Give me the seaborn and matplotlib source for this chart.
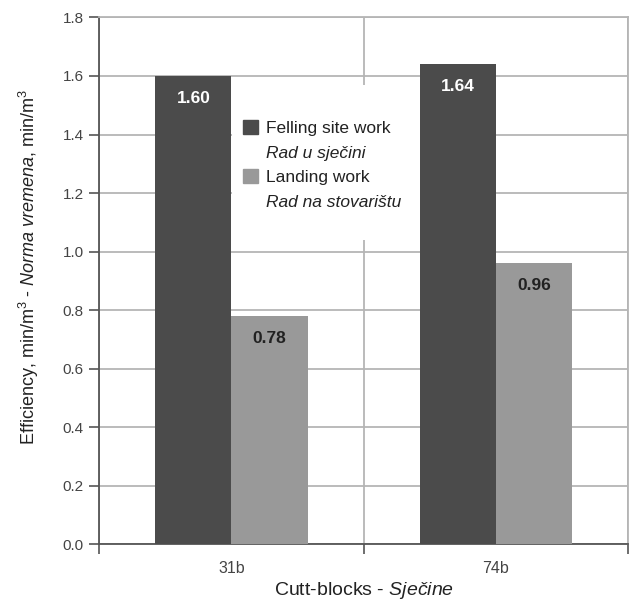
import pandas as pd
import seaborn as sns
import matplotlib.pyplot as plt
from matplotlib.patches import Patch, Rectangle
from matplotlib.ticker import FixedLocator

# Data
blocks = ['31b', '74b']
felling = [1.60, 1.64]
landing = [0.78, 0.96]
work_types = ['Felling site work', 'Landing work']
colors = ['#4b4b4b', '#999999']

sns.set_theme(style="white")
plt.rcParams['font.family'] = ['Liberation Sans', 'DejaVu Sans']
plt.rcParams['mathtext.fontset'] = 'custom'
plt.rcParams['mathtext.rm'] = 'Liberation Sans'
plt.rcParams['mathtext.it'] = 'Liberation Sans:italic'

df = pd.DataFrame({
    'block': blocks * 2,
    'value': felling + landing,
    'work': [work_types[0]] * 2 + [work_types[1]] * 2,
})

fig = plt.figure(figsize=(6.32, 6.02), dpi=100)
ax = fig.add_axes([0.157, 0.096, 0.837, 0.875])

sns.barplot(data=df, x='block', y='value', hue='work', palette=colors,
            width=0.575, saturation=1, linewidth=0, ax=ax, legend=False, zorder=3)

ax.set_xlim(-0.5, 1.5)
ax.set_ylim(0, 1.8)
ax.set_yticks([i * 0.2 for i in range(10)])
ax.set_yticklabels([f'{i * 0.2:.1f}' for i in range(10)], fontsize=11, color='#444444')
ax.set_xticks([0, 1])
ax.set_xticklabels(blocks, fontsize=11.5, color='#444444')
ax.xaxis.set_minor_locator(FixedLocator([-0.5, 0.5, 1.5]))
ax.tick_params(axis='x', which='major', length=0, pad=12)
ax.tick_params(axis='x', which='minor', length=7, width=1.2, color='#555555', bottom=True)
ax.tick_params(axis='y', length=7, width=1.2, color='#555555', left=True, pad=4)

ax.grid(axis='y', color='#b5b5b5', linewidth=1.3, zorder=0)
ax.grid(axis='x', which='minor', color='#b5b5b5', linewidth=1.3, zorder=0)
ax.set_axisbelow(True)

for side in ['top', 'right']:
    ax.spines[side].set_color('#b5b5b5')
    ax.spines[side].set_linewidth(1.3)
for side in ['left', 'bottom']:
    ax.spines[side].set_color('#555555')
    ax.spines[side].set_linewidth(1.3)

# value labels
for i, cont in enumerate(ax.containers):
    for bar in cont:
        h = bar.get_height()
        ax.annotate(f'{h:.2f}', (bar.get_x() + bar.get_width() / 2, h),
                    xytext=(0, -16), textcoords='offset points',
                    ha='center', va='center', fontsize=12.5, fontweight='bold',
                    color='white' if i == 0 else '#222222', zorder=5)

ax.set_xlabel('Cutt-blocks - $\\it{Sječine}$', fontsize=14, color='#222222', labelpad=3)
ax.set_ylabel('Efficiency, min/m$^3$ - $\\it{Norma\\ vremena}$, min/m$^3$',
              fontsize=13, color='#222222', labelpad=16, y=0.526)

# white box behind the legend (hides the grid there)
ax.add_patch(Rectangle((0.251, 0.577), 0.356, 0.294, transform=ax.transAxes,
                       facecolor='white', edgecolor='none', zorder=1))

handles = [Patch(color=colors[0]), Patch(color='none'),
           Patch(color=colors[1]), Patch(color='none')]
labels = ['Felling site work', 'Rad u sječini', 'Landing work', 'Rad na stovarištu']
leg = ax.legend(handles, labels, loc='upper left', bbox_to_anchor=(0.272, 0.805),
                frameon=False, fontsize=12.5, handlelength=0.85, handleheight=0.85,
                handletextpad=0.45, labelspacing=0.5, borderpad=0, borderaxespad=0)
leg.set_zorder(4)
for t in (leg.get_texts()[1], leg.get_texts()[3]):
    t.set_style('italic')
for t in leg.get_texts():
    t.set_color('#222222')

fig.savefig('out.png', dpi=100)
